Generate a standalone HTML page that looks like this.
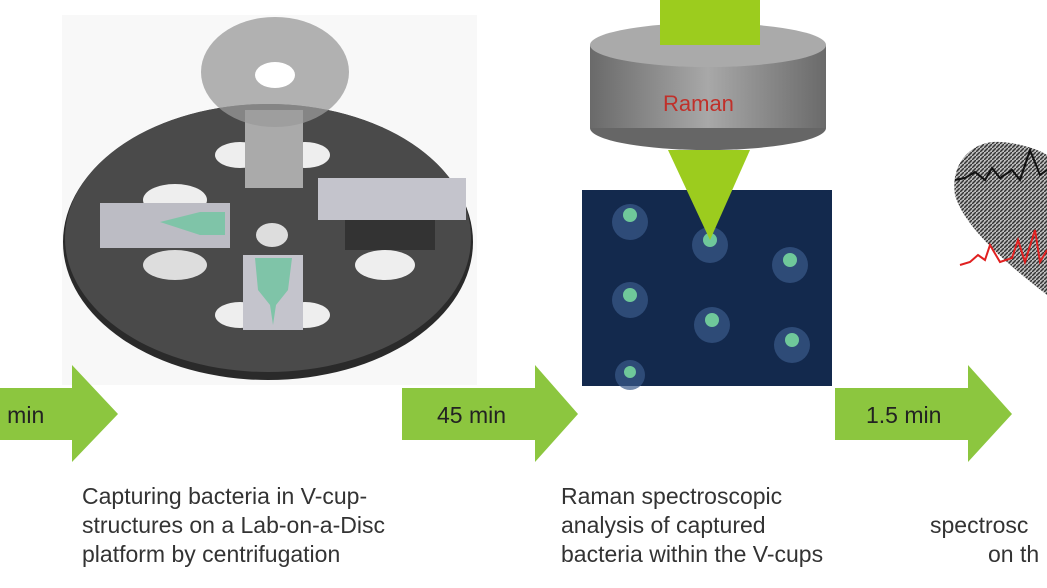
<!DOCTYPE html>
<html><head><meta charset="utf-8"><style>
body{margin:0;width:1047px;height:588px;background:#fff;overflow:hidden;position:relative;font-family:"Liberation Sans","DejaVu Sans",sans-serif}
.t{position:absolute;font-size:23px;color:#333;line-height:29px;white-space:nowrap}
</style></head><body>
<svg width="1047" height="588" style="position:absolute;left:0;top:0">
<defs><linearGradient id="cyl" x1="0" x2="1"><stop offset="0" stop-color="#6a6a6a"/><stop offset=".5" stop-color="#a8a8a8"/><stop offset="1" stop-color="#6a6a6a"/></linearGradient>
<pattern id="hatch" width="4" height="4" patternUnits="userSpaceOnUse"><rect width="4" height="4" fill="#bbb"/><path d="M0 4 L4 0" stroke="#333" stroke-width="1.5"/></pattern></defs>
<!-- disc -->
<rect x="62" y="15" width="415" height="370" fill="#f8f8f8"/>
<ellipse cx="268" cy="242" rx="205" ry="138" fill="#2a2a2a"/>
<ellipse cx="268" cy="238" rx="203" ry="134" fill="#4a4a4a"/>
<ellipse cx="175" cy="200" rx="32" ry="16" fill="#eee"/><ellipse cx="175" cy="265" rx="32" ry="15" fill="#ddd"/>
<ellipse cx="240" cy="155" rx="25" ry="13" fill="#eee"/><ellipse cx="305" cy="155" rx="25" ry="13" fill="#eee"/>
<ellipse cx="240" cy="315" rx="25" ry="13" fill="#eee"/><ellipse cx="305" cy="315" rx="25" ry="13" fill="#eee"/>
<ellipse cx="385" cy="265" rx="30" ry="15" fill="#eee"/><ellipse cx="272" cy="235" rx="16" ry="12" fill="#ddd"/>
<rect x="100" y="203" width="130" height="45" fill="#bcbcc4"/>
<path d="M160 222 L200 212 L225 212 L225 235 L200 235 Z" fill="#7fc4a8"/>
<rect x="318" y="178" width="148" height="42" fill="#c4c4cc"/><rect x="345" y="220" width="90" height="30" fill="#333"/>
<rect x="243" y="255" width="60" height="75" fill="#c4c4cc"/>
<path d="M255 258 L292 258 L288 290 L276 305 L273 325 L270 305 L258 290 Z" fill="#7fc4a8"/>
<rect x="245" y="110" width="58" height="78" fill="#aaa"/>
<ellipse cx="275" cy="72" rx="74" ry="55" fill="#999" opacity=".75"/>
<ellipse cx="275" cy="75" rx="20" ry="13" fill="#fff"/>
<!-- raman -->
<ellipse cx="708" cy="128" rx="118" ry="22" fill="#666"/>
<rect x="590" y="45" width="236" height="83" fill="url(#cyl)"/>
<ellipse cx="708" cy="45" rx="118" ry="22" fill="#aaa"/>
<rect x="660" y="0" width="100" height="45" fill="#9ccc1e"/>
<rect x="582" y="190" width="250" height="196" fill="#13294d"/>
<g fill="#3a5a8a" opacity=".7"><circle cx="630" cy="222" r="18"/><circle cx="710" cy="245" r="18"/><circle cx="790" cy="265" r="18"/><circle cx="630" cy="300" r="18"/><circle cx="712" cy="325" r="18"/><circle cx="792" cy="345" r="18"/><circle cx="630" cy="375" r="15"/></g>
<g fill="#6fc89a"><circle cx="630" cy="215" r="7"/><circle cx="710" cy="240" r="7"/><circle cx="790" cy="260" r="7"/><circle cx="630" cy="295" r="7"/><circle cx="712" cy="320" r="7"/><circle cx="792" cy="340" r="7"/><circle cx="630" cy="372" r="6"/></g>
<polygon points="668,150 750,150 710,240" fill="#9ccc1e"/>
<text x="663" y="111" font-family="Liberation Sans" font-size="22" fill="#c0302a">Raman</text>
<!-- heart -->
<path d="M1047 295 C1015 270 965 230 955 195 C950 160 975 140 1000 142 C1020 143 1040 150 1047 155 Z" fill="url(#hatch)"/>
<polyline points="955,180 965,178 975,172 985,180 992,168 1000,178 1012,170 1020,180 1030,150 1040,175 1047,170" fill="none" stroke="#111" stroke-width="2"/>
<polyline points="960,265 970,262 978,255 985,260 990,245 1000,262 1012,258 1018,240 1025,262 1035,230 1040,262 1047,250" fill="none" stroke="#e02020" stroke-width="2"/>
<!-- arrows -->
<g fill="#8cc63f">
<polygon points="0,388 72,388 72,365 118,414 72,462 72,440 0,440"/>
<polygon points="402,388 535,388 535,365 578,414 535,462 535,440 402,440"/>
<polygon points="835,388 968,388 968,365 1012,414 968,462 968,440 835,440"/>
</g>
<g font-family="Liberation Sans" font-size="23" fill="#222">
<text x="-12" y="423">0 min</text><text x="437" y="423">45 min</text><text x="866" y="423">1.5 min</text>
</g>
</svg>
<div class="t" style="left:82px;top:482px">Capturing bacteria in V-cup-<br>structures on a Lab-on-a-Disc<br>platform by centrifugation</div>
<div class="t" style="left:561px;top:482px">Raman spectroscopic<br>analysis of captured<br>bacteria within the V-cups</div>
<div class="t" style="left:930px;top:511px">spectrosc<br><span style="padding-left:58px">on th</span></div>
</body></html>
